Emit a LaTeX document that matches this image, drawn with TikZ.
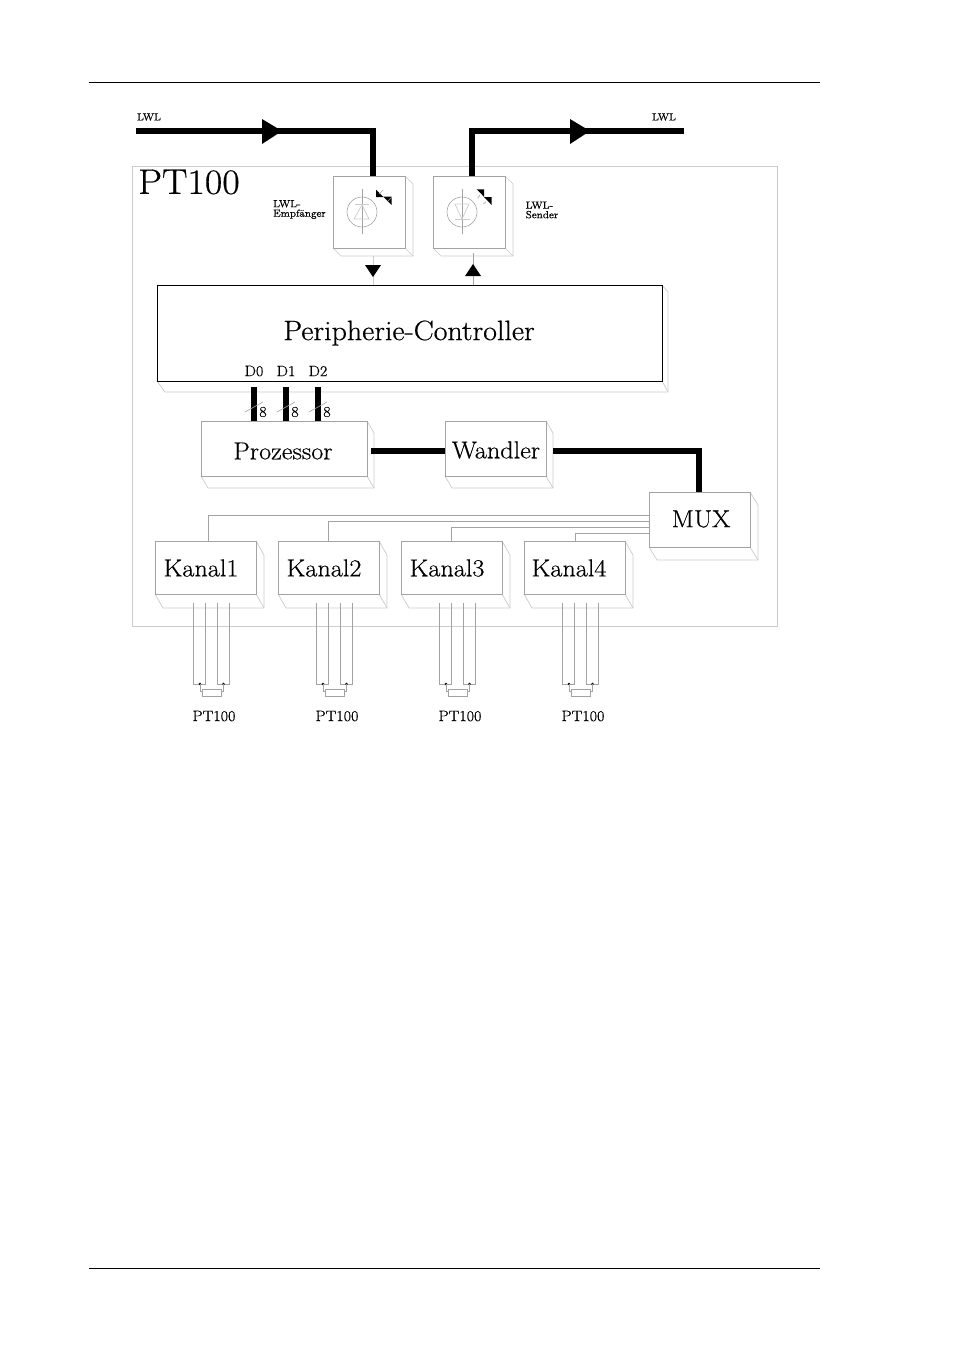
\documentclass[tikz,border=0pt]{standalone}
\usepackage{fontspec}
\setmainfont[FakeStretch=1.07,FakeBold=0.5]{Latin Modern Roman}
\definecolor{lg}{gray}{0.80}
\definecolor{mg}{gray}{0.64}
\tikzset{
 x=1pt,y=-1pt,
 thin gray/.style={line width=0.6pt,draw=mg},
 thin light/.style={line width=0.7pt,draw=lg},
 lbl/.style={inner sep=0,font=\fontsize{15}{16}\selectfont},
 blocktext/.style={inner sep=0,font=\fontsize{24.5}{26}\selectfont},
 big/.style={inner sep=0,font=\fontsize{28}{30}\selectfont},
 small/.style={inner sep=0,font=\fontsize{10.3}{9.5}\selectfont,align=left},
 head/.style={fill=black,draw=none},
}
\newcommand{\boxthree}[7]{%
 \draw[thin light] (#4,#3) -- (#4+#6,#3+#7) -- (#4+#6,#5+#7) -- (#2+#6,#5+#7) -- (#2,#5);
 \draw[thin light] (#4,#5) -- (#4+#6,#5+#7);
 \draw[thin gray] (#2,#3) rectangle (#4,#5);
 \coordinate (#1) at (#2,#3);
}
\newcommand{\sensorwires}[2]{%
 \draw[thin gray] (#1,603) -- (#1,684) -- (#1+12,684) -- (#1+12,603);
 \draw[thin gray] (#1+24,603) -- (#1+24,684) -- (#1+36,684) -- (#1+36,603);
 \fill (#1+7,684) circle (1.4);
 \fill (#1+30.5,684) circle (1.4);
 \draw[thin gray] (#1+7,684) -- (#1+7,691) -- (#1+9,691);
 \draw[thin gray] (#1+30.5,684) -- (#1+30.5,691) -- (#1+28.5,691);
 \draw[thin gray] (#1+9,689) rectangle (#1+28.5,696);
 \node[lbl] (#2) at (#1+21,716) {PT100};
}
\begin{document}
\begin{tikzpicture}
\useasboundingbox[fill=white] (0,0) rectangle (954,1350);
\coordinate (rt1) at (89,82); \coordinate (rt2) at (820,82);
\coordinate (rb1) at (89,1268); \coordinate (rb2) at (820,1268);
\draw[line width=0.8pt] (rt1) -- (rt2);
\draw[line width=0.8pt] (rb1) -- (rb2);
\draw[thin light] (132,166) rectangle (777,626);
\node[inner sep=0,font=\fontsize{35.5}{38}\selectfont,anchor=west] (title) at (138,182) {PT100};
\boxthree{rx}{333}{176}{405}{248}{8}{8}
\boxthree{tx}{433}{176}{505}{248}{8}{8}
\node[small,anchor=west] (rxl) at (273,209.5) {LWL-\\Empfänger};
\node[small,anchor=west] (txl) at (525.5,210) {LWL-\\Sender};
\node[small] (lwla) at (149,117) {LWL};
\node[small] (lwlb) at (664,117) {LWL};
\coordinate (fa) at (136,131); \coordinate (fb) at (373,131); \coordinate (fc) at (373,176);
\coordinate (ga) at (472,176); \coordinate (gb) at (472,131); \coordinate (gc) at (684,131);
\draw[line width=6pt,line join=miter] (fa) -- (fb) -- (fc);
\draw[line width=6pt,line join=miter] (ga) -- (gb) -- (gc);
\fill[head] (262,119) -- (282,131) -- (262,144) -- cycle;
\fill[head] (570,119) -- (590,131) -- (570,144) -- cycle;
% diodes
\draw[thin gray] (362,212) circle (15);
\draw[thin gray] (362,189) -- (362,234);
\draw[thin light] (355,204) -- (369,204);
\draw[thin light] (362,205) -- (354,219) -- (369,219) -- cycle;
\draw[thin gray] (462,212) circle (15);
\draw[thin gray] (462,189) -- (462,234);
\draw[thin light] (455,219) -- (470,219);
\draw[thin light] (455,204) -- (469,204) -- (462,219) -- cycle;
% light arrows
\fill[head] (376,189.5) -- (376,197) -- (383.5,197) -- cycle;
\fill[head] (383.3,196.7) -- (391.7,196.7) -- (391.7,205) -- cycle;
\draw[thin gray] (383.3,190) -- (379.3,194);
\draw[thin gray] (391.7,197.3) -- (387.7,201.3);
\fill[head] (476.7,189.3) -- (484.2,189.3) -- (484.2,197) -- cycle;
\fill[head] (484,197) -- (491.7,197) -- (491.7,205) -- cycle;
\draw[thin gray] (477.7,198.3) -- (480,195);
\draw[thin gray] (483.3,204) -- (486,201.7);
% controller
\draw[thin light] (662,285) -- (668,292) -- (668,392) -- (165,392) -- (157,381);
\draw[thin light] (662,381) -- (668,392);
\draw[line width=0.8pt] (157,285) rectangle (662,381);
\node[big] (pc) at (409,333) {Peripherie-Controller};
% small arrows
\draw[thin light] (373,256) -- (373,285);
\draw[thin gray] (473,253) -- (473,285);
\fill[head] (365,265) -- (381,265) -- (373,277) -- cycle;
\fill[head] (465,276) -- (481,276) -- (473,264) -- cycle;
% buses
\foreach \x/\t in {254/D0,286/D1,318/D2}{
 \node[lbl] at (\x,371) {\t};
 \draw[line width=6pt] (\x,387) -- (\x,421);
 \draw[thin gray] (\x-9,412) -- (\x+9,402);
 \node[lbl] at (\x+9,412) {8};
}
\boxthree{pr}{201}{421}{367}{476}{7}{12}
\node[blocktext] (prt) at (283,451) {Prozessor};
\boxthree{wa}{445}{421}{546}{476}{7}{12}
\node[blocktext] (wat) at (496,450) {Wandler};
\boxthree{mu}{649}{492}{750}{547}{8}{13}
\node[blocktext] (mut) at (701,519) {MUX};
\draw[line width=6pt] (371,451) -- (445,451);
\draw[line width=6pt,line join=miter] (553,451) -- (699,451) -- (699,492);
\boxthree{k1}{155}{541}{256}{594}{8}{14}
\boxthree{k2}{278}{541}{379}{594}{8}{14}
\boxthree{k3}{401}{541}{502}{594}{8}{14}
\boxthree{k4}{524}{541}{625}{594}{8}{14}
\node[blocktext] (k1t) at (201,568) {Kanal1};
\node[blocktext] (k2t) at (324,568) {Kanal2};
\node[blocktext] (k3t) at (447,568) {Kanal3};
\node[blocktext] (k4t) at (569,568) {Kanal4};
\draw[thin gray] (208,541) -- (208,515) -- (649,515);
\draw[thin gray] (328,541) -- (328,521) -- (649,521);
\draw[thin gray] (451,541) -- (451,527) -- (649,527);
\draw[thin gray] (575,541) -- (575,533) -- (649,533);
\sensorwires{193}{s1}
\sensorwires{316}{s2}
\sensorwires{439}{s3}
\sensorwires{562}{s4}
\end{tikzpicture}
\end{document}
